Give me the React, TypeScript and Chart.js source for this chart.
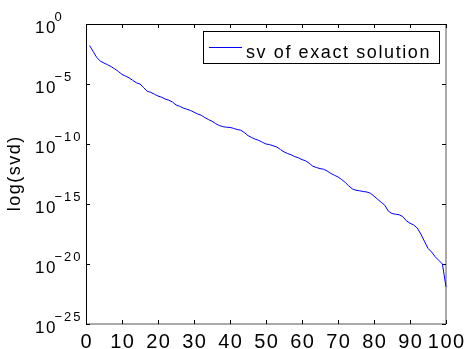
import React, { useEffect, useRef } from "react";
import { Chart, registerables } from "chart.js";

Chart.register(...registerables);

// ---- data ----
const svIndex = [
  1, 2, 3, 4, 5, 6, 7, 8, 9, 10,
  11, 12, 13, 14, 15, 16, 17, 18, 19, 20,
  21, 22, 23, 24, 25, 26, 27, 28, 29, 30,
  31, 32, 33, 34, 35, 36, 37, 38, 39, 40,
  41, 42, 43, 44, 45, 46, 47, 48, 49, 50,
  51, 52, 53, 54, 55, 56, 57, 58, 59, 60,
  61, 62, 63, 64, 65, 66, 67, 68, 69, 70,
  71, 72, 73, 74, 75, 76, 77, 78, 79, 80,
  81, 82, 83, 84, 85, 86, 87, 88, 89, 90,
  91, 92, 93, 94, 95, 96, 97, 98, 99, 100,
];

const svValues = [
  1.6e-2, 5.0e-3, 1.6e-3, 7.9e-4, 5.6e-4, 4.0e-4, 2.8e-4, 1.8e-4, 1.1e-4, 6.3e-5,
  4.5e-5, 3.2e-5, 2.0e-5, 1.26e-5, 1.0e-5, 5.0e-6, 2.5e-6, 2.0e-6, 1.4e-6, 1.0e-6,
  7.9e-7, 5.6e-7, 4.5e-7, 3.2e-7, 1.8e-7, 1.4e-7, 1.0e-7, 7.9e-8, 6.3e-8, 4.5e-8,
  3.2e-8, 2.5e-8, 1.6e-8, 1.1e-8, 7.9e-9, 5.0e-9, 3.5e-9, 2.8e-9, 2.5e-9, 2.4e-9,
  2.0e-9, 1.6e-9, 1.4e-9, 8.9e-10, 5.0e-10, 3.5e-10, 2.5e-10, 2.0e-10, 1.4e-10, 1.0e-10,
  8.9e-11, 7.1e-11, 5.6e-11, 3.5e-11, 2.2e-11, 1.6e-11, 1.26e-11, 8.9e-12, 7.1e-12, 5.0e-12,
  4.0e-12, 2.5e-12, 1.4e-12, 1.1e-12, 8.9e-13, 7.9e-13, 5.6e-13, 3.5e-13, 2.5e-13, 1.8e-13,
  1.1e-13, 6.3e-14, 3.2e-14, 1.8e-14, 1.4e-14, 1.26e-14, 1.1e-14, 1.0e-14, 7.9e-15, 4.5e-15,
  2.5e-15, 1.4e-15, 7.9e-16, 2.5e-16, 1.6e-16, 1.4e-16, 1.26e-16, 8.9e-17, 4.0e-17, 2.5e-17,
  1.8e-17, 1.0e-17, 3.2e-18, 7.9e-19, 2.0e-19, 1.0e-19, 4.0e-20, 2.0e-20, 1.0e-20, 1.26e-22,
];

const xTickValues = [0, 10, 20, 30, 40, 50, 60, 70, 80, 90, 100];
const yTickValues = [1e0, 1e-5, 1e-10, 1e-15, 1e-20, 1e-25];
const yTickExponents = ["0", "-5", "-10", "-15", "-20", "-25"];
const seriesLabel = "sv of exact solution";
const yAxisTitle = "log(svd)";

const FONT = '"Liberation Sans", Arial, Helvetica, sans-serif';
const LINE_COLOR = "rgb(0,0,255)";

function setSpacing(ctx: any, px: number) {
  if ("letterSpacing" in ctx) ctx.letterSpacing = px + "px";
}

const decorPlugin = {
  id: "matlabDecor",
  beforeDatasetsDraw(chart: any) {
    const { ctx, chartArea: a, scales } = chart;
    const xs = scales.x;
    const ys = scales.y;
    ctx.save();
    ctx.fillStyle = "#fff";
    ctx.fillRect(a.left, a.top, a.right - a.left, a.bottom - a.top);
    ctx.strokeStyle = "#000";
    ctx.lineWidth = 1;
    ctx.beginPath();
    ctx.moveTo(a.left + 0.5, a.bottom);
    ctx.lineTo(a.left + 0.5, a.top + 0.5);
    ctx.lineTo(a.right, a.top + 0.5);
    ctx.stroke();
    ctx.strokeStyle = "#555";
    ctx.beginPath();
    ctx.moveTo(a.right, a.top);
    ctx.lineTo(a.right, a.bottom);
    ctx.lineTo(a.left, a.bottom);
    ctx.stroke();
    ctx.strokeStyle = "#000";
    const tl = 4;
    ctx.beginPath();
    xTickValues.forEach((v) => {
      const px = Math.round(xs.getPixelForValue(v)) + 0.5;
      ctx.moveTo(px, a.bottom);
      ctx.lineTo(px, a.bottom - tl);
      ctx.moveTo(px, a.top);
      ctx.lineTo(px, a.top + tl);
    });
    yTickValues.forEach((v) => {
      const py = Math.round(ys.getPixelForValue(v)) + 0.5;
      ctx.moveTo(a.left, py);
      ctx.lineTo(a.left + tl, py);
      ctx.moveTo(a.right, py);
      ctx.lineTo(a.right - tl, py);
    });
    ctx.stroke();
    ctx.restore();
  },
  afterDraw(chart: any) {
    const { ctx, chartArea: a, scales } = chart;
    const xs = scales.x;
    const ys = scales.y;
    ctx.save();
    ctx.fillStyle = "#000";
    ctx.textBaseline = "alphabetic";

    // y tick labels 10^e
    yTickValues.forEach((v, i) => {
      const py = ys.getPixelForValue(v);
      ctx.textAlign = "left";
      ctx.font = `17px ${FONT}`;
      setSpacing(ctx, 1.5);
      ctx.fillText("10", 35, py + 8.5);
      ctx.font = `13px ${FONT}`;
      setSpacing(ctx, 2);
      ctx.fillText(yTickExponents[i].replace("-", "\u2212"), 54.5, py - 3.5);
    });

    // x tick labels
    ctx.font = `20px ${FONT}`;
    setSpacing(ctx, 1.5);
    ctx.textAlign = "center";
    xTickValues.forEach((v) => {
      const px = xs.getPixelForValue(v);
      ctx.fillText(String(v), px + 0.75, 348);
    });

    // y axis title
    ctx.save();
    ctx.translate(20, (a.top + a.bottom) / 2);
    ctx.rotate(-Math.PI / 2);
    ctx.font = `18px ${FONT}`;
    setSpacing(ctx, 1.5);
    ctx.textAlign = "center";
    ctx.fillText(yAxisTitle, 0.75, 0);
    ctx.restore();

    // legend
    const lx = 203.5, ly = 31.5, lw = 236, lh = 32;
    ctx.fillStyle = "#fff";
    ctx.fillRect(lx, ly, lw, lh);
    ctx.strokeStyle = "#000";
    ctx.lineWidth = 1;
    ctx.strokeRect(lx, ly, lw, lh);
    ctx.strokeStyle = LINE_COLOR;
    ctx.beginPath();
    ctx.moveTo(209, 47.5);
    ctx.lineTo(242, 47.5);
    ctx.stroke();
    ctx.fillStyle = "#000";
    ctx.font = `18px ${FONT}`;
    setSpacing(ctx, 1.6);
    ctx.textAlign = "left";
    ctx.fillText(seriesLabel, 246, 58);
    ctx.restore();
  },
};

export default function App() {
  const canvasRef = useRef<HTMLCanvasElement | null>(null);

  useEffect(() => {
    const canvas = canvasRef.current;
    if (!canvas) return;
    const points = svIndex.map((x, i) => ({ x, y: svValues[i] }));
    const chart = new Chart(canvas, {
      type: "line",
      data: {
        datasets: [
          {
            label: seriesLabel,
            data: points,
            borderColor: LINE_COLOR,
            borderWidth: 1,
            pointRadius: 0,
            tension: 0,
            fill: false,
            clip: 3,
          } as any,
        ],
      },
      options: {
        responsive: false,
        maintainAspectRatio: false,
        devicePixelRatio: 1,
        animation: false,
        layout: { padding: { left: 86, right: 19, top: 24, bottom: 25 } },
        plugins: { legend: { display: false }, tooltip: { enabled: false } },
        scales: {
          x: { type: "linear", min: 0, max: 100, display: false },
          y: { type: "logarithmic", min: 1e-25, max: 1, display: false },
        },
      },
      plugins: [decorPlugin],
    });
    return () => chart.destroy();
  }, []);

  return (
    <div style={{ position: "fixed", left: 0, top: 0, width: 465, height: 349, background: "#fff" }}>
      <canvas ref={canvasRef} width={465} height={349} style={{ width: 465, height: 349, display: "block" }} />
    </div>
  );
}
